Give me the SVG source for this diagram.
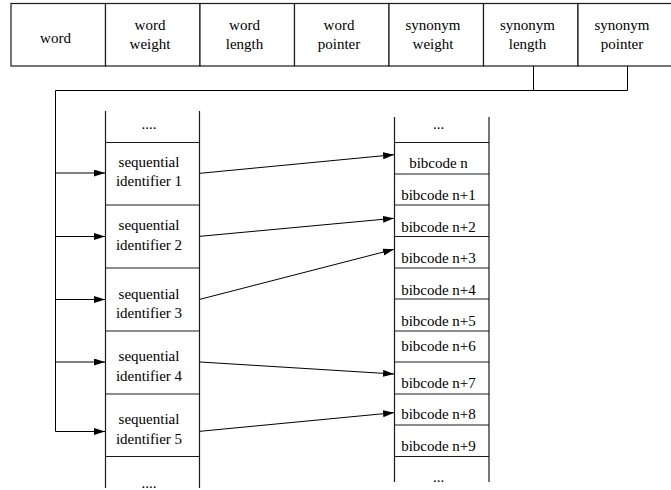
<svg xmlns="http://www.w3.org/2000/svg" width="671" height="490" viewBox="0 0 671 490">
<defs>
<marker id="ah" markerUnits="userSpaceOnUse" markerWidth="12" markerHeight="8" refX="11" refY="3.5" orient="auto">
<path d="M0,0 L11,3.5 L0,7 z" fill="#000"/>
</marker>
<style>
text{font-family:"Times New Roman","Liberation Serif","DejaVu Serif",serif;font-size:15px;fill:#000;text-anchor:middle}
.cell{fill:#fff;stroke:#1a1a1a;stroke-width:1.2}
.ln{fill:none;stroke:#1a1a1a;stroke-width:1.2}
.cn{fill:none;stroke:#000;stroke-width:1}
</style>
</defs>
<rect width="671" height="490" fill="#fff"/>
<g id="record">
<g id="f-word"><rect class="cell" x="11" y="3.5" width="94.5" height="62.5"/><text x="55.5" y="42.5">word</text></g>
<g id="f-word-weight"><rect class="cell" x="105.5" y="3.5" width="94.5" height="62.5"/><text x="150" y="29.5">word</text><text x="150" y="48.5">weight</text></g>
<g id="f-word-length"><rect class="cell" x="200" y="3.5" width="94.5" height="62.5"/><text x="244.5" y="29.5">word</text><text x="244.5" y="48.5">length</text></g>
<g id="f-word-pointer"><rect class="cell" x="294.5" y="3.5" width="94.5" height="62.5"/><text x="339" y="29.5">word</text><text x="339" y="48.5">pointer</text></g>
<g id="f-syn-weight"><rect class="cell" x="389" y="3.5" width="94.5" height="62.5"/><text x="433" y="29.5">synonym</text><text x="433" y="48.5">weight</text></g>
<g id="f-syn-length"><rect class="cell" x="483.5" y="3.5" width="94.5" height="62.5"/><text x="527.5" y="29.5">synonym</text><text x="527.5" y="48.5">length</text></g>
<g id="f-syn-pointer"><rect class="cell" x="578" y="3.5" width="94.5" height="62.5"/><text x="622" y="29.5">synonym</text><text x="622" y="48.5">pointer</text></g>
</g>
<g id="seq-column">
<path class="ln" d="M105.5,111 V488 M199.5,111 V488"/>
<g id="seq-top"><path class="ln" d="M105.5,142.5 H199.5"/><text x="149" y="129">....</text></g>
<g id="seq1"><path class="ln" d="M105.5,205 H199.5"/><text x="149" y="166.5">sequential</text><text x="149" y="186">identifier 1</text></g>
<g id="seq2"><path class="ln" d="M105.5,268 H199.5"/><text x="149" y="230">sequential</text><text x="149" y="249.5">identifier 2</text></g>
<g id="seq3"><path class="ln" d="M105.5,331 H199.5"/><text x="149" y="298.5">sequential</text><text x="149" y="318">identifier 3</text></g>
<g id="seq4"><path class="ln" d="M105.5,394 H199.5"/><text x="149" y="361">sequential</text><text x="149" y="380.5">identifier 4</text></g>
<g id="seq5"><path class="ln" d="M105.5,456.5 H199.5"/><text x="149" y="424">sequential</text><text x="149" y="443.5">identifier 5</text></g>
<g id="seq-bottom"><text x="149" y="487.5">....</text></g>
</g>
<g id="bib-column">
<path class="ln" d="M394.5,117 V482 M489,117 V482"/>
<g id="bib-top"><path class="ln" d="M394.5,142.5 H489"/><text x="438.5" y="129">...</text></g>
<g id="bib0"><path class="ln" d="M394.5,174 H489"/><text x="438.5" y="167.5">bibcode n</text></g>
<g id="bib1"><path class="ln" d="M394.5,205 H489"/><text x="438.5" y="200">bibcode n+1</text></g>
<g id="bib2"><path class="ln" d="M394.5,236.5 H489"/><text x="438.5" y="231.5">bibcode n+2</text></g>
<g id="bib3"><path class="ln" d="M394.5,268 H489"/><text x="438.5" y="263">bibcode n+3</text></g>
<g id="bib4"><path class="ln" d="M394.5,299 H489"/><text x="438.5" y="294.5">bibcode n+4</text></g>
<g id="bib5"><path class="ln" d="M394.5,331 H489"/><text x="438.5" y="325.5">bibcode n+5</text></g>
<g id="bib6"><path class="ln" d="M394.5,362 H489"/><text x="438.5" y="350.5">bibcode n+6</text></g>
<g id="bib7"><path class="ln" d="M394.5,394 H489"/><text x="438.5" y="387.5">bibcode n+7</text></g>
<g id="bib8"><path class="ln" d="M394.5,425 H489"/><text x="438.5" y="419">bibcode n+8</text></g>
<g id="bib9"><path class="ln" d="M394.5,456.5 H489"/><text x="438.5" y="450.5">bibcode n+9</text></g>
<g id="bib-bottom"><text x="438.5" y="481.5">...</text></g>
</g>
<g id="connectors">
<path class="cn" d="M533.5,66 V90.5"/>
<path class="cn" d="M627.5,66 V90.5 H55.5 V431.5"/>
<path class="cn" d="M55.5,173 H105" marker-end="url(#ah)"/>
<path class="cn" d="M55.5,236.5 H105" marker-end="url(#ah)"/>
<path class="cn" d="M55.5,299.5 H105" marker-end="url(#ah)"/>
<path class="cn" d="M55.5,362 H105" marker-end="url(#ah)"/>
<path class="cn" d="M55.5,431.5 H105" marker-end="url(#ah)"/>
<path class="cn" d="M200,173.3 L394,154.7" marker-end="url(#ah)"/>
<path class="cn" d="M200,236.3 L394,218.3" marker-end="url(#ah)"/>
<path class="cn" d="M200,299.3 L394,249.3" marker-end="url(#ah)"/>
<path class="cn" d="M200,362 L394,374" marker-end="url(#ah)"/>
<path class="cn" d="M200,431.3 L394,412.7" marker-end="url(#ah)"/>
</g>
</svg>
